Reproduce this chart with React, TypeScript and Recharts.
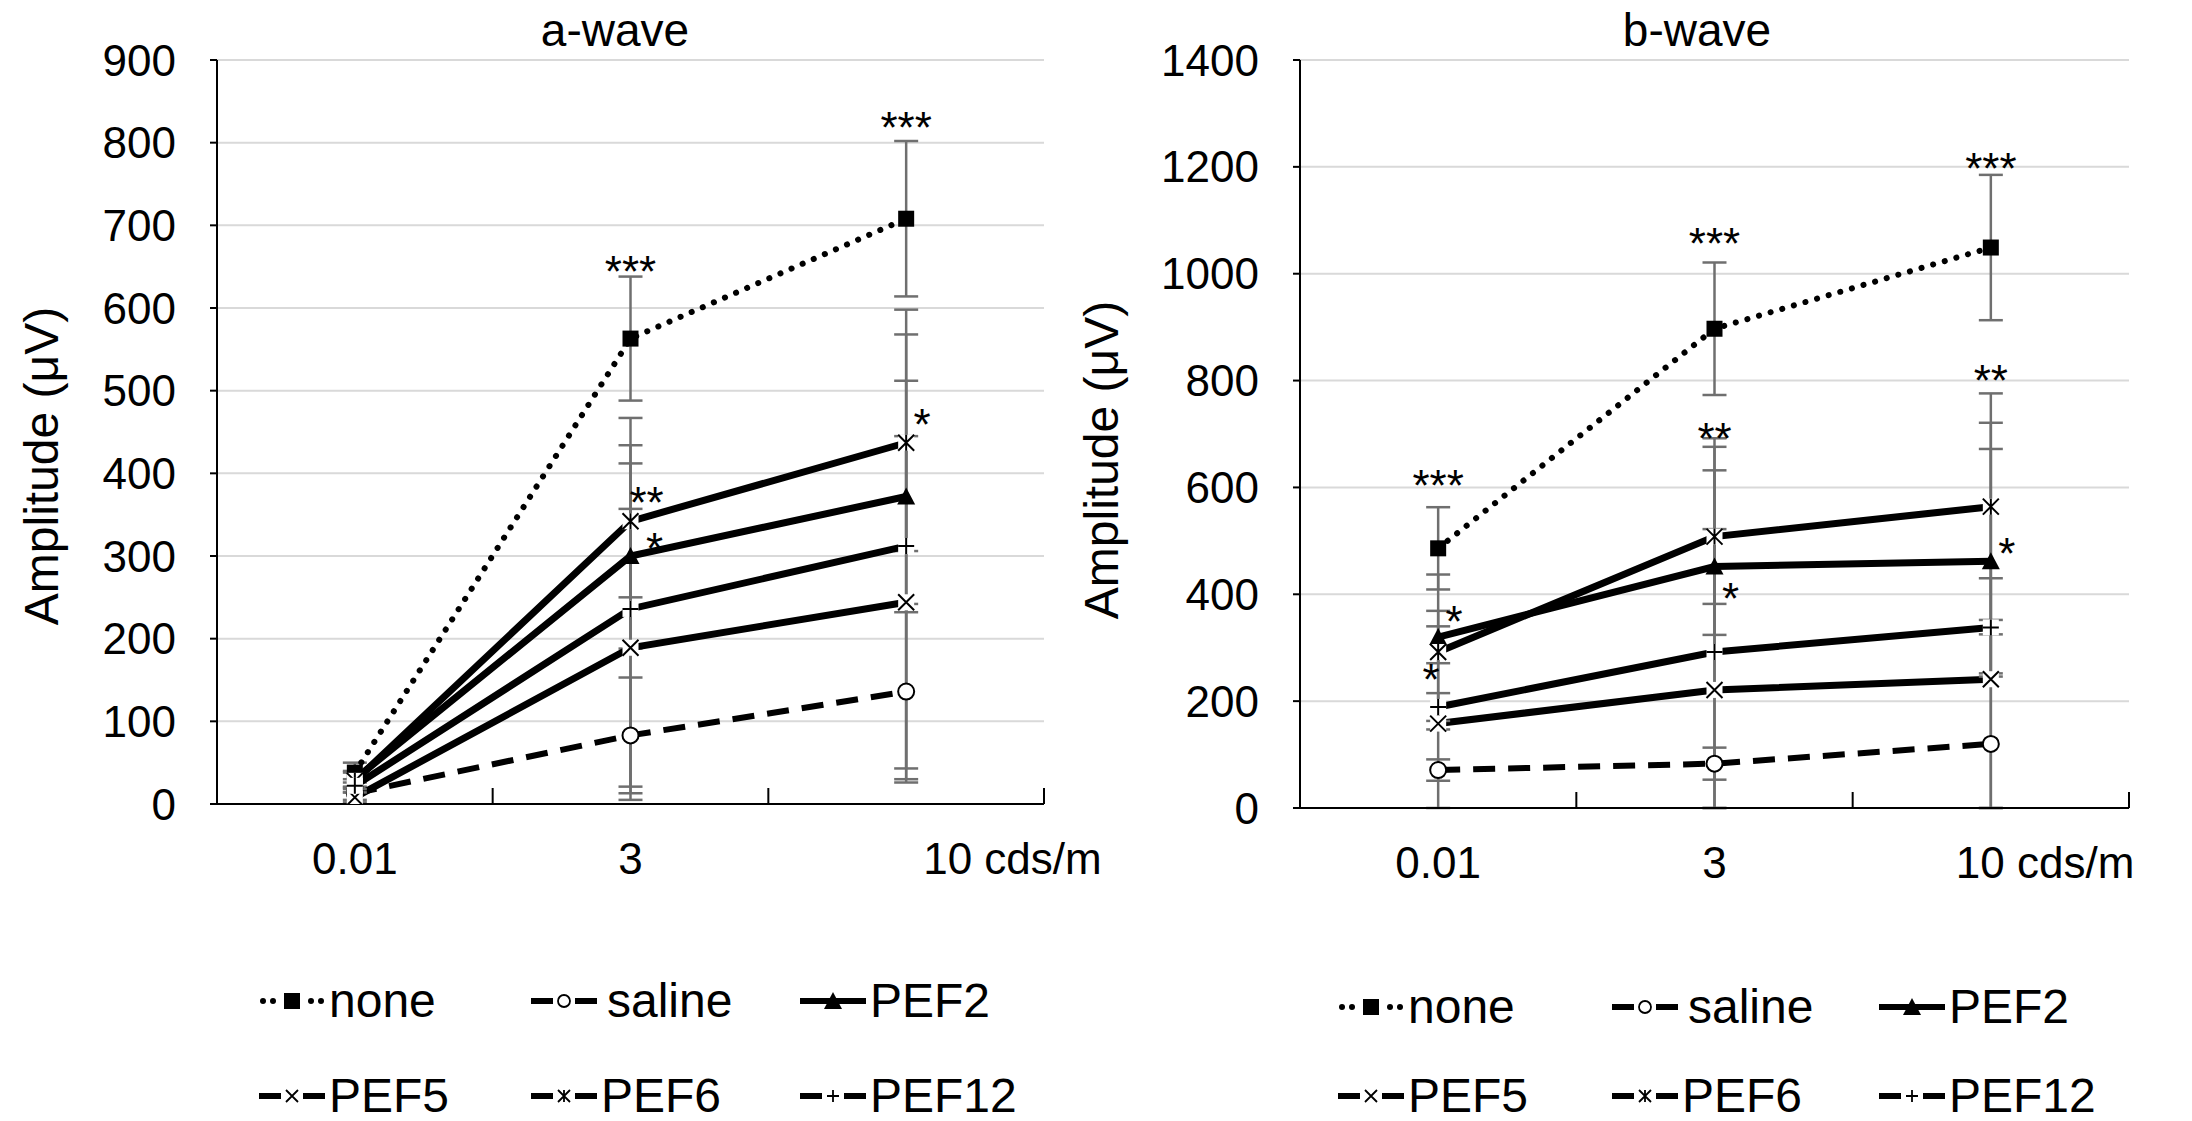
import React from 'react';
import { LineChart, Line, XAxis, YAxis, CartesianGrid, ErrorBar, ReferenceDot } from 'recharts';

const FONT = '"Liberation Sans", Arial, sans-serif';

const categories = ['0.01', '3', '10'];
const unitSuffix = ' cds/m';
const seriesNames = ['none', 'saline', 'PEF2', 'PEF5', 'PEF6', 'PEF12'];

// a-wave means and SD (µV)
const aNone = [38, 563, 708];
const aNoneErr = [12, 75, 94];
const aSaline = [13, 83, 136];
const aSalineErr = [8, 70, 106];
const aPef2 = [30, 300, 372];
const aPef2Err = [10, 112, 140];
const aPef5 = [8, 189, 244];
const aPef5Err = [6, 168, 201];
const aPef6 = [28, 342, 437];
const aPef6Err = [10, 92, 131];
const aPef12 = [22, 236, 312];
const aPef12Err = [8, 231, 286];

// b-wave means and SD (µV)
const bNone = [486, 897, 1049];
const bNoneErr = [77, 124, 136];
const bSaline = [71, 83, 120];
const bSalineErr = [20, 30, 205];
const bPef2 = [320, 452, 462];
const bPef2Err = [49, 70, 210];
const bPef5 = [158, 221, 241];
const bPef5Err = [182, 411, 480];
const bPef6 = [292, 508, 564];
const bPef6Err = [145, 184, 212];
const bPef12 = [189, 292, 338];
const bPef12Err = [26, 384, 92];

const aTicks = [0, 100, 200, 300, 400, 500, 600, 700, 800, 900];
const bTicks = [0, 200, 400, 600, 800, 1000, 1200, 1400];

// significance marks: category index, value they sit at, text, side
const aStars = [
  { cat: 1, value: 656, text: '***', side: 'c' },
  { cat: 1, value: 376, text: '**', side: 'r' },
  { cat: 1, value: 320, text: '*', side: 'rr' },
  { cat: 2, value: 830, text: '***', side: 'c' },
  { cat: 2, value: 470, text: '*', side: 'r' },
];
const bStars = [
  { cat: 0, value: 621, text: '***', side: 'c' },
  { cat: 0, value: 366, text: '*', side: 'r' },
  { cat: 0, value: 259, text: '*', side: 'l' },
  { cat: 1, value: 1075, text: '***', side: 'c' },
  { cat: 1, value: 709, text: '**', side: 'c' },
  { cat: 1, value: 409, text: '*', side: 'r' },
  { cat: 2, value: 1215, text: '***', side: 'c' },
  { cat: 2, value: 817, text: '**', side: 'c' },
  { cat: 2, value: 494, text: '*', side: 'r' },
];
const starDx: Record<string, number> = { c: 0, r: 16, rr: 24, l: -7 };

const seriesStyle: Record<string, any> = {
  none: { width: 6, dash: '0.1 12', cap: 'round', marker: 'square' },
  saline: { width: 6, dash: '22 13', cap: 'butt', marker: 'circle' },
  PEF2: { width: 7, marker: 'triangle' },
  PEF5: { width: 7, marker: 'x' },
  PEF6: { width: 7, marker: 'star' },
  PEF12: { width: 7, marker: 'plus' },
};

function buildRows(values: number[][], errors: number[][]) {
  return categories.map((c, i) => {
    const row: any = { x: i + 0.5, cat: c };
    seriesNames.forEach((s, k) => {
      row[s] = values[k][i];
      // lower whisker stops at the axis, like the original
      row[s + 'Err'] = [Math.min(errors[k][i], values[k][i]), errors[k][i]];
    });
    return row;
  });
}

const aData = buildRows([aNone, aSaline, aPef2, aPef5, aPef6, aPef12], [aNoneErr, aSalineErr, aPef2Err, aPef5Err, aPef6Err, aPef12Err]);
const bData = buildRows([bNone, bSaline, bPef2, bPef5, bPef6, bPef12], [bNoneErr, bSalineErr, bPef2Err, bPef5Err, bPef6Err, bPef12Err]);

function Marker({ kind, cx, cy, h = 8, sw = 2 }: any) {
  if (cx == null || cy == null) return null;
  switch (kind) {
    case 'square':
      return <rect x={cx - h} y={cy - h} width={2 * h} height={2 * h} fill="#000" />;
    case 'circle':
      return <circle cx={cx} cy={cy} r={h} fill="#fff" stroke="#000" strokeWidth={sw} />;
    case 'triangle':
      return <path d={`M${cx},${cy - h - 1} L${cx + h + 1},${cy + h} L${cx - h - 1},${cy + h} Z`} fill="#000" />;
    case 'x':
      return (
        <g>
          <rect x={cx - h} y={cy - h} width={2 * h} height={2 * h} fill="#fff" />
          <path d={`M${cx - h},${cy - h} L${cx + h},${cy + h} M${cx - h},${cy + h} L${cx + h},${cy - h}`} stroke="#000" strokeWidth={sw} />
        </g>
      );
    case 'star':
      return (
        <g>
          <rect x={cx - h} y={cy - h} width={2 * h} height={2 * h} fill="#fff" />
          <path d={`M${cx - h},${cy - h} L${cx + h},${cy + h} M${cx - h},${cy + h} L${cx + h},${cy - h} M${cx},${cy - h} L${cx},${cy + h}`} stroke="#000" strokeWidth={sw} />
        </g>
      );
    case 'plus':
      return (
        <g>
          <rect x={cx - h} y={cy - h} width={2 * h} height={2 * h} fill="#fff" />
          <path d={`M${cx - h},${cy} L${cx + h},${cy} M${cx},${cy - h} L${cx},${cy + h}`} stroke="#000" strokeWidth={sw} />
        </g>
      );
    default:
      return null;
  }
}

const XTick = ({ x, y, payload, lastDx }: any) => {
  const v = payload.value;
  if (Number.isInteger(v)) {
    return <line x1={x} y1={y} x2={x} y2={y - 16} stroke="#000" strokeWidth={2} />;
  }
  const idx = Math.floor(v);
  const isLast = idx === categories.length - 1;
  return (
    <text
      x={isLast ? x + lastDx : x}
      y={y + 70}
      textAnchor={isLast ? 'start' : 'middle'}
      fontSize={44}
      fontFamily={FONT}
      fill="#000"
    >
      {isLast ? categories[idx] + unitSuffix : categories[idx]}
    </text>
  );
};

function WaveChart({ data, yMax, ticks, stars, margin, width, lastDx }: any) {
  const xTicks = [0, 0.5, 1, 1.5, 2, 2.5, 3];
  return (
    <LineChart width={width} height={900} data={data} margin={margin}>
      <CartesianGrid vertical={false} stroke="#d9d9d9" strokeWidth={2} />
      <XAxis
        type="number"
        dataKey="x"
        domain={[0, 3]}
        ticks={xTicks}
        interval={0}
        allowDataOverflow
        height={60}
        tickLine={false}
        tickSize={0}
        tickMargin={0}
        axisLine={{ stroke: '#000', strokeWidth: 2 }}
        tick={(p: any) => <XTick {...p} lastDx={lastDx} />}
      />
      <YAxis
        type="number"
        domain={[0, yMax]}
        ticks={ticks}
        interval={0}
        allowDataOverflow
        width={150}
        tickSize={7}
        tickMargin={34}
        tickLine={{ stroke: '#000', strokeWidth: 2 }}
        axisLine={{ stroke: '#000', strokeWidth: 2 }}
        tick={{ fill: '#000', fontSize: 44, fontFamily: FONT }}
      />
      {seriesNames.map((s) => {
        const st = seriesStyle[s];
        return (
          <Line
            key={s}
            type="linear"
            dataKey={s}
            stroke="#000"
            strokeWidth={st.width}
            strokeDasharray={st.dash}
            strokeLinecap={st.cap || 'butt'}
            isAnimationActive={false}
            activeDot={false}
            dot={(p: any) => <Marker key={`${s}-${p.index}`} kind={st.marker} cx={p.cx} cy={p.cy} />}
          >
            <ErrorBar dataKey={s + 'Err'} direction="y" width={12} stroke="#6f6f6f" strokeWidth={2.5} />
          </Line>
        );
      })}
      {stars.map((a: any, i: number) => (
        <ReferenceDot
          key={'star' + i}
          x={a.cat + 0.5}
          y={a.value}
          r={0}
          shape={(p: any) => (
            <text
              x={p.cx + starDx[a.side]}
              y={p.cy + 25}
              textAnchor="middle"
              fontSize={44}
              fontFamily={FONT}
              fill="#000"
            >
              {a.text}
            </text>
          )}
        />
      ))}
    </LineChart>
  );
}

function LegendSymbol({ name }: { name: string }) {
  const st = seriesStyle[name];
  const cy = 13;
  let line: React.ReactNode;
  if (name === 'none') {
    line = (
      <g fill="#000">
        {[4, 14, 52, 62].map((x) => <circle key={x} cx={x} cy={cy} r={3} />)}
      </g>
    );
  } else if (name === 'PEF2') {
    line = <line x1={0} y1={cy} x2={66} y2={cy} stroke="#000" strokeWidth={6} />;
  } else {
    line = (
      <g stroke="#000" strokeWidth={6}>
        <line x1={0} y1={cy} x2={22} y2={cy} />
        <line x1={44} y1={cy} x2={66} y2={cy} />
      </g>
    );
  }
  const h = st.marker === 'square' ? 8 : st.marker === 'triangle' ? 8 : 6;
  return (
    <svg width={66} height={26} style={{ display: 'block' }}>
      {line}
      <Marker kind={st.marker} cx={33} cy={cy} h={h} sw={1.8} />
    </svg>
  );
}

function Legend({ left, rows }: { left: number[]; rows: number[] }) {
  const items = [seriesNames.slice(0, 3), seriesNames.slice(3)];
  return (
    <>
      {items.map((row, r) =>
        row.map((name, c) => (
          <div
            key={name}
            style={{
              position: 'absolute',
              left: left[c],
              top: rows[r],
              transform: 'translateY(-50%)',
              display: 'flex',
              alignItems: 'center',
              gap: name === 'saline' ? 10 : 4,
              fontFamily: FONT,
              fontSize: 48,
              lineHeight: 1,
              color: '#000',
              whiteSpace: 'nowrap',
            }}
          >
            <LegendSymbol name={name} />
            <span>{name}</span>
          </div>
        ))
      )}
    </>
  );
}

const titleStyle: React.CSSProperties = {
  position: 'absolute',
  transform: 'translate(-50%, -50%)',
  fontFamily: FONT,
  fontSize: 46,
  lineHeight: 1,
  color: '#000',
  whiteSpace: 'nowrap',
};

const yTitleStyle: React.CSSProperties = {
  position: 'absolute',
  transform: 'translate(-50%, -50%) rotate(-90deg)',
  fontFamily: FONT,
  fontSize: 48,
  lineHeight: 1,
  color: '#000',
  whiteSpace: 'nowrap',
};

export default function App() {
  return (
    <div style={{ position: 'absolute', left: 0, top: 0, width: 2192, height: 1121, background: '#fff', overflow: 'hidden' }}>
      <div style={{ position: 'absolute', left: 0, top: 0 }}>
        <WaveChart
          data={aData}
          yMax={900}
          ticks={aTicks}
          stars={aStars}
          width={1130}
          margin={{ top: 60, right: 86, bottom: 36, left: 67 }}
          lastDx={17}
        />
      </div>
      <div style={{ position: 'absolute', left: 1100, top: 0 }}>
        <WaveChart
          data={bData}
          yMax={1400}
          ticks={bTicks}
          stars={bStars}
          width={1092}
          margin={{ top: 60, right: 63, bottom: 32, left: 50 }}
          lastDx={-35}
        />
      </div>
      <div style={{ ...titleStyle, left: 615, top: 30 }}>a-wave</div>
      <div style={{ ...titleStyle, left: 1697, top: 30 }}>b-wave</div>
      <div style={{ ...yTitleStyle, left: 42, top: 466 }}>Amplitude (μV)</div>
      <div style={{ ...yTitleStyle, left: 1102, top: 460 }}>Amplitude (μV)</div>
      <Legend left={[259, 531, 800]} rows={[1001, 1096]} />
      <Legend left={[1338, 1612, 1879]} rows={[1007, 1096]} />
    </div>
  );
}
